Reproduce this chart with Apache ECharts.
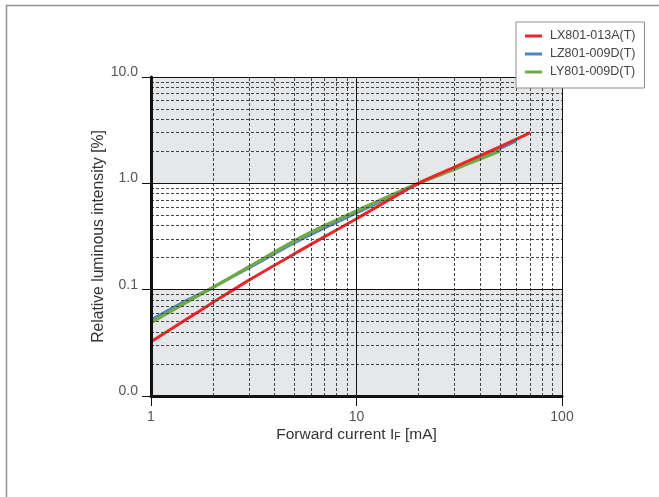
<!DOCTYPE html>
<html>
<head>
<meta charset="utf-8">
<script src="https://cdn.jsdelivr.net/npm/echarts@6/dist/echarts.min.js"></script>
<style>
html,body{margin:0;padding:0;background:#fff;}
#chart{width:659px;height:497px;}
</style>
</head>
<body>
<div id="chart"></div>
<script>
// ---- data ----
const seriesNames = ['LX801-013A(T)', 'LZ801-009D(T)', 'LY801-009D(T)'];
const currentLX = [1, 1.5, 2, 3, 5, 7, 10, 20, 30, 40, 50, 60, 70];
const intensityLX = [0.0323, 0.0532, 0.0756, 0.123, 0.218, 0.315, 0.465, 1.0, 1.42, 1.82, 2.21, 2.6, 3.0];
const currentLZ = [1, 1.5, 2, 3, 5, 7, 10, 20, 30, 40, 50, 60];
const intensityLZ = [0.052, 0.08, 0.105, 0.16, 0.276, 0.38, 0.525, 1.0, 1.39, 1.76, 2.13, 2.5];
const currentLY = [1, 1.5, 2, 3, 5, 7, 10, 20, 30, 40, 50];
const intensityLY = [0.049, 0.077, 0.105, 0.164, 0.288, 0.40, 0.55, 1.0, 1.36, 1.70, 2.02];
const xTickLabels = ['1', '10', '100'];
const yTickLabels = ['0.0', '0.1', '1.0', '10.0'];
const xDecades = [1, 10];
const yDecades = [0.01, 0.1, 1];
const minorMultipliers = [2, 3, 4, 5, 6, 7, 8, 9];

const FONT = "'Liberation Sans', Arial, Helvetica, sans-serif";
const pairs = (xs, ys) => xs.map((x, i) => [x, ys[i]]);

const xMinor = [], yMinor = [];
xDecades.forEach(d => minorMultipliers.forEach(m => xMinor.push({ xAxis: d * m })));
yDecades.forEach(d => minorMultipliers.forEach(m => yMinor.push({ yAxis: +(d * m).toPrecision(3) })));
const xMajor = [{ xAxis: 10 }, { xAxis: 100 }];
const yMajor = [{ yAxis: 0.1 }, { yAxis: 1 }, { yAxis: 10 }];

const dashStyle = { color: '#444', width: 1, type: [3, 2] };
const solidStyle = { color: '#111', width: 1, type: 'solid' };

const chart = echarts.init(document.getElementById('chart'), null, { renderer: 'canvas' });
chart.setOption({
  animation: false,
  backgroundColor: '#fff',
  textStyle: { fontFamily: FONT },
  graphic: [{
    type: 'rect', silent: true, z: 0,
    shape: { x: 6.5, y: 5.5, width: 720, height: 560 },
    style: { fill: null, stroke: '#8f8f8f', lineWidth: 1.5 }
  }],
  grid: { left: 151, right: 97, top: 77, bottom: 101, containLabel: false },
  legend: {
    data: seriesNames,
    orient: 'vertical',
    left: 516, top: 22,
    z: 20,
    backgroundColor: '#fff',
    borderColor: '#8e8e8e', borderWidth: 1, borderRadius: 0,
    padding: [7, 9, 9, 9],
    itemGap: 4,
    itemWidth: 17, itemHeight: 3,
    icon: 'rect',
    textStyle: { fontFamily: FONT, fontSize: 12.5, color: '#444', lineHeight: 14, padding: [0, 0, 0, 3] }
  },
  xAxis: {
    type: 'log', logBase: 10, min: 1, max: 100, z: 5,
    name: 'Forward current I{s|F} [mA]',
    nameLocation: 'middle', nameGap: 31, nameMoveOverlap: false,
    nameTextStyle: { fontFamily: FONT, fontSize: 15.5, color: '#333',
      rich: { s: { fontFamily: FONT, fontSize: 10.5, color: '#333', verticalAlign: 'bottom' } } },
    axisLine: { show: true, lineStyle: { color: '#111', width: 3 } },
    axisTick: { show: true, length: 10, lineStyle: { color: '#111', width: 1 } },
    minorTick: { show: false },
    splitLine: { show: false },
    axisLabel: { fontFamily: FONT, fontSize: 14, color: '#555', margin: 14,
      formatter: v => { const i = Math.round(Math.log10(v)); return xTickLabels[i]; } }
  },
  yAxis: {
    type: 'log', logBase: 10, min: 0.01, max: 10, z: 5,
    name: 'Relative luminous intensity [%]',
    nameLocation: 'middle', nameGap: 44, nameMoveOverlap: false,
    nameTextStyle: { fontFamily: FONT, fontSize: 15.7, color: '#333' },
    axisLine: { show: true, lineStyle: { color: '#111', width: 3 } },
    axisTick: { show: true, length: 9, lineStyle: { color: '#111', width: 1 } },
    splitLine: { show: false },
    axisLabel: { fontFamily: FONT, fontSize: 14, color: '#555', margin: 13, verticalAlign: 'bottom',
      padding: [0, 0, -2, 0],
      formatter: v => { const i = Math.round(Math.log10(v)) + 2; return yTickLabels[i]; } }
  },
  series: [
    {
      type: 'line', name: 'bands', data: [], z: 1, silent: true,
      markArea: {
        silent: true,
        itemStyle: { color: '#e6e7e9' },
        data: [[{ yAxis: 1 }, { yAxis: 10 }], [{ yAxis: 0.01 }, { yAxis: 0.1 }]]
      }
    },
    {
      type: 'line', name: 'minorGrid', data: [], z: 2, silent: true,
      markLine: {
        silent: true, symbol: 'none', label: { show: false },
        lineStyle: dashStyle,
        data: xMinor.concat(yMinor)
      }
    },
    {
      type: 'line', name: 'majorGrid', data: [], z: 2, silent: true,
      markLine: {
        silent: true, symbol: 'none', label: { show: false },
        lineStyle: solidStyle,
        data: xMajor.concat(yMajor)
      }
    },
    {
      type: 'line', name: seriesNames[1], data: pairs(currentLZ, intensityLZ), z: 3,
      showSymbol: false, smooth: 0.3, color: '#4a85c6',
      lineStyle: { width: 2.8, color: '#4a85c6' }
    },
    {
      type: 'line', name: seriesNames[2], data: pairs(currentLY, intensityLY), z: 3,
      showSymbol: false, smooth: 0.3, color: '#70aa45',
      lineStyle: { width: 3.4, color: '#70aa45' }
    },
    {
      type: 'line', name: seriesNames[0], data: pairs(currentLX, intensityLX), z: 3,
      showSymbol: false, smooth: 0.3, color: '#ec2629',
      lineStyle: { width: 3, color: '#ec2629' }
    }
  ]
});
</script>
</body>
</html>
